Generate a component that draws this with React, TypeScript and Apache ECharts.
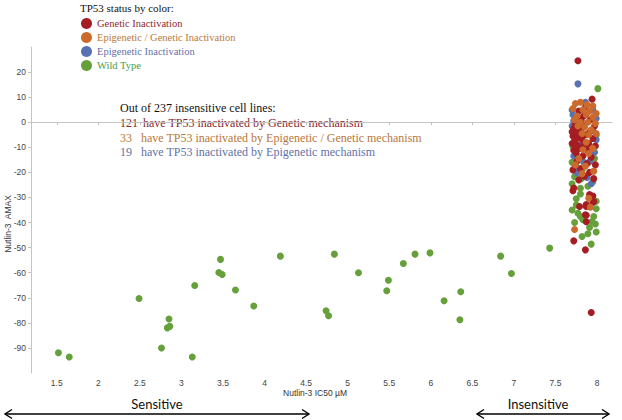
import React, { useEffect, useRef } from "react";
import * as echarts from "echarts";

const xTicks = [1.5, 2, 2.5, 3, 3.5, 4, 4.5, 5, 5.5, 6, 6.5, 7, 7.5, 8];

const legendNames = [
  "Genetic Inactivation",
  "Epigenetic / Genetic Inactivation",
  "Epigenetic Inactivation",
  "Wild Type",
];

const wildType: [number, number][] = [
  [1.52, -91.9], [1.65, -93.6], [2.49, -70.3], [2.76, -90.0], [2.85, -78.5],
  [2.83, -82.0], [2.86, -81.4], [3.13, -93.6], [3.16, -65.1], [3.47, -54.7],
  [3.45, -59.9], [3.49, -60.7], [3.65, -66.9], [3.87, -73.3], [4.19, -53.4],
  [4.74, -75.2], [4.77, -77.2], [4.84, -52.6], [5.13, -60.0], [5.49, -63.0],
  [5.47, -67.2], [5.67, -56.3], [5.81, -52.6], [5.99, -52.1], [6.16, -71.2],
  [6.36, -67.6], [6.35, -78.8], [6.84, -53.4], [6.97, -60.3], [7.43, -50.2],
  [8.01, 13.4], [7.99, -5.1], [7.71, -9.7], [7.97, -14.5], [7.70, -16.0],
  [7.82, -19.0], [7.73, -21.7], [7.81, -22.5], [7.95, -23.7], [7.70, -24.5],
  [7.80, -26.3], [7.89, -25.5], [7.80, -28.6], [7.75, -30.5], [7.99, -31.5],
  [7.75, -33.0], [7.99, -34.5], [7.77, -36.3], [7.80, -37.6], [7.96, -37.6],
  [7.83, -38.9], [7.94, -39.6], [7.73, -40.0], [7.98, -40.6], [7.91, -42.0],
  [7.99, -43.8], [7.82, -45.6], [7.93, -48.6], [7.70, -35.0], [7.89, -44.5],
];

const epigenetic: [number, number][] = [
  [7.77, 15.3], [7.70, 4.9], [7.95, 4.9], [7.71, 3.0], [7.72, 0.6],
  [7.99, 1.5], [7.70, -1.5], [7.95, -3.1], [7.80, -9.5], [7.97, -12.0],
  [7.72, -13.5], [7.91, -15.7], [7.84, -16.0], [7.76, -20.1], [7.88, -22.0],
  [7.99, -7.0], [7.86, 8.0], [7.74, -17.5], [7.93, -24.5],
];

const genetic: [number, number][] = [
  [7.77, 24.5], [7.94, 9.2], [7.86, 6.0], [7.78, 4.5], [7.84, 2.5],
  [7.92, 1.0], [7.81, 0.5], [7.74, -1.0], [7.97, -1.5], [7.72, -2.5],
  [7.80, -3.0], [7.75, -4.0], [7.86, -5.0], [7.71, -5.5], [7.78, -6.2],
  [7.95, -6.5], [7.82, -7.0], [7.73, -7.8], [7.70, -8.5], [7.90, -8.5],
  [7.76, -9.0], [7.98, -9.5], [7.79, -10.5], [7.88, -11.0], [7.72, -11.2],
  [7.75, -12.5], [7.83, -13.5], [7.93, -14.0], [7.76, -15.5], [7.88, -16.5],
  [7.98, -17.0], [7.80, -18.5], [7.71, -19.0], [7.91, -20.0], [7.85, -21.5],
  [7.96, -22.5], [7.78, -23.0], [7.72, -26.2], [7.71, -27.3], [7.91, -28.8],
  [7.95, -29.4], [7.96, -31.6], [7.95, -32.0], [7.87, -32.8], [7.79, -33.6],
  [7.87, -33.6], [7.86, -36.9], [7.87, -37.1], [7.87, -39.7], [7.72, -47.3],
  [7.86, -50.9], [7.93, -75.9], [7.77, -3.5], [7.73, -6.5], [7.84, -9.5],
  [7.91, -4.0], [7.79, 1.5], [7.83, -1.5], [7.75, -10.0], [7.70, -3.8],
];

const epiGenetic: [number, number][] = [
  [7.74, 7.5], [7.80, 8.0], [7.88, 7.0], [7.95, 6.5], [7.71, 5.5],
  [7.83, 5.0], [7.91, 4.5], [7.99, 3.5], [7.76, 2.5], [7.87, 3.0],
  [7.95, 2.0], [7.73, 1.0], [7.80, 0.0], [7.89, 0.0], [7.98, -0.5],
  [7.77, -1.5], [7.85, -2.0], [7.93, -3.0], [7.82, -4.5], [7.90, -5.0],
  [7.99, -4.5], [7.87, -8.0], [7.95, -10.5], [7.83, -11.0], [7.78, -14.5],
  [7.90, -12.5], [7.86, -17.5], [7.74, -17.0], [7.96, -19.5], [7.82, -20.5],
  [7.90, -30.3], [7.92, -33.9], [7.73, -42.8],
];

const annotation = [
  { num: "", text: "Out of 237 insensitive cell lines:", color: "#111111" },
  { num: "121", text: "have TP53 inactivated by Genetic mechanism", color: "#8a1f2e" },
  { num: "33", text: "have TP53 inactivated by Epigenetic / Genetic mechanism", color: "#b8773a" },
  { num: "19", text: "have TP53 inactivated by Epigenetic mechanism", color: "#6272a6" },
];

const COLORS = {
  genetic: "#a51d22",
  epiGenetic: "#cc6a2c",
  epigenetic: "#5873b3",
  wild: "#66a03a",
};
const LEGEND_TEXT = ["#8e1f2b", "#b97a3c", "#6270a8", "#4e9a45"];

const SERIF = "'Liberation Serif', 'Times New Roman', serif";
const SANS = "'Liberation Sans', Arial, sans-serif";

export default function App() {
  const ref = useRef<HTMLDivElement>(null);

  useEffect(() => {
    if (!ref.current) return;
    const chart = echarts.init(ref.current, null, { renderer: "svg" });

    const annotationGraphics: any[] = [];
    const annY = [108, 123, 137.5, 152];
    annotation.forEach((a, i) => {
      if (a.num) {
        annotationGraphics.push({
          type: "text",
          x: 120,
          y: annY[i],
          style: { text: a.num, fill: a.color, font: `12px ${SERIF}`, textVerticalAlign: "middle" },
        });
        annotationGraphics.push({
          type: "text",
          x: i === 1 ? 143 : 141,
          y: annY[i],
          style: { text: a.text, fill: a.color, font: `12px ${SERIF}`, textVerticalAlign: "middle" },
        });
      } else {
        annotationGraphics.push({
          type: "text",
          x: 120,
          y: annY[i],
          style: { text: a.text, fill: a.color, font: `12px ${SERIF}`, textVerticalAlign: "middle" },
        });
      }
    });

    const arrow = (x1: number, x2: number, y: number) => [
      { type: "line", shape: { x1, y1: y, x2, y2: y }, style: { stroke: "#000", lineWidth: 1.4 } },
      { type: "polyline", shape: { points: [[x1 + 7, y - 4.5], [x1, y], [x1 + 7, y + 4.5]] }, style: { stroke: "#000", lineWidth: 1.4, fill: null } },
      { type: "polyline", shape: { points: [[x2 - 7, y - 4.5], [x2, y], [x2 - 7, y + 4.5]] }, style: { stroke: "#000", lineWidth: 1.4, fill: null } },
    ];

    const scatter = (name: string, data: [number, number][], color: string) => ({
      name,
      type: "scatter",
      data,
      symbolSize: 7,
      itemStyle: { color, opacity: 1 },
      emphasis: { disabled: true },
    });

    chart.setOption({
      animation: false,
      backgroundColor: "#ffffff",
      grid: { left: 31, right: 10, top: 47, bottom: 47, containLabel: false },
      legend: {
        orient: "vertical",
        left: 81,
        top: 18,
        padding: 0,
        icon: "circle",
        itemWidth: 11,
        itemHeight: 11,
        itemGap: 3,
        selectedMode: false,
        textStyle: { fontFamily: SERIF, fontSize: 10.5 },
        data: legendNames.map((n, i) => ({ name: n, textStyle: { color: LEGEND_TEXT[i] } })),
      },
      xAxis: {
        type: "value",
        min: 1.19,
        max: 8.18,
        splitLine: { show: false },
        axisLine: { lineStyle: { color: "#c4c4c4" } },
        axisTick: { show: true, length: 3, lineStyle: { color: "#c4c4c4" }, customValues: xTicks },
        axisLabel: { customValues: xTicks, margin: 5, fontSize: 8.5, fontFamily: SANS, color: "#444" },
      },
      yAxis: {
        type: "value",
        min: -100,
        max: 30,
        interval: 10,
        splitLine: { show: false },
        axisLine: { show: true, lineStyle: { color: "#c4c4c4" } },
        axisTick: { show: true, length: 3, lineStyle: { color: "#c4c4c4" } },
        axisLabel: { showMinLabel: false, showMaxLabel: false, margin: 5, fontSize: 8.5, fontFamily: SANS, color: "#444" },
      },
      series: [
        scatter("Wild Type", wildType, COLORS.wild),
        scatter("Epigenetic Inactivation", epigenetic, COLORS.epigenetic),
        scatter("Genetic Inactivation", genetic, COLORS.genetic),
        scatter("Epigenetic / Genetic Inactivation", epiGenetic, COLORS.epiGenetic),
      ],
      graphic: [
        {
          type: "text",
          x: 80,
          y: 8,
          style: { text: "TP53 status by color:", fill: "#111", font: `11px ${SERIF}`, textVerticalAlign: "middle" },
        },
        ...annotationGraphics,
        {
          type: "text",
          x: 8,
          y: 224,
          rotation: Math.PI / 2,
          style: { text: "Nutlin-3  AMAX", fill: "#333", font: `8.5px ${SANS}`, textAlign: "center", textVerticalAlign: "middle" },
        },
        {
          type: "text",
          x: 315,
          y: 393,
          style: { text: "Nutlin-3 IC50 µM", fill: "#333", font: `8.5px ${SANS}`, textAlign: "center", textVerticalAlign: "middle" },
        },
        {
          type: "text",
          x: 157,
          y: 404,
          style: { text: "Sensitive", fill: "#111", font: `13px Lato, 'Open Sans', sans-serif`, textAlign: "center", textVerticalAlign: "middle" },
        },
        {
          type: "text",
          x: 538,
          y: 404,
          style: { text: "Insensitive", fill: "#111", font: `13px Lato, 'Open Sans', sans-serif`, textAlign: "center", textVerticalAlign: "middle" },
        },
        ...arrow(5, 309, 414),
        ...arrow(477, 609, 414),
      ],
    });

    return () => chart.dispose();
  }, []);

  return (
    <div
      ref={ref}
      style={{ position: "absolute", left: 0, top: 0, width: 622, height: 420, background: "#fff" }}
    />
  );
}
